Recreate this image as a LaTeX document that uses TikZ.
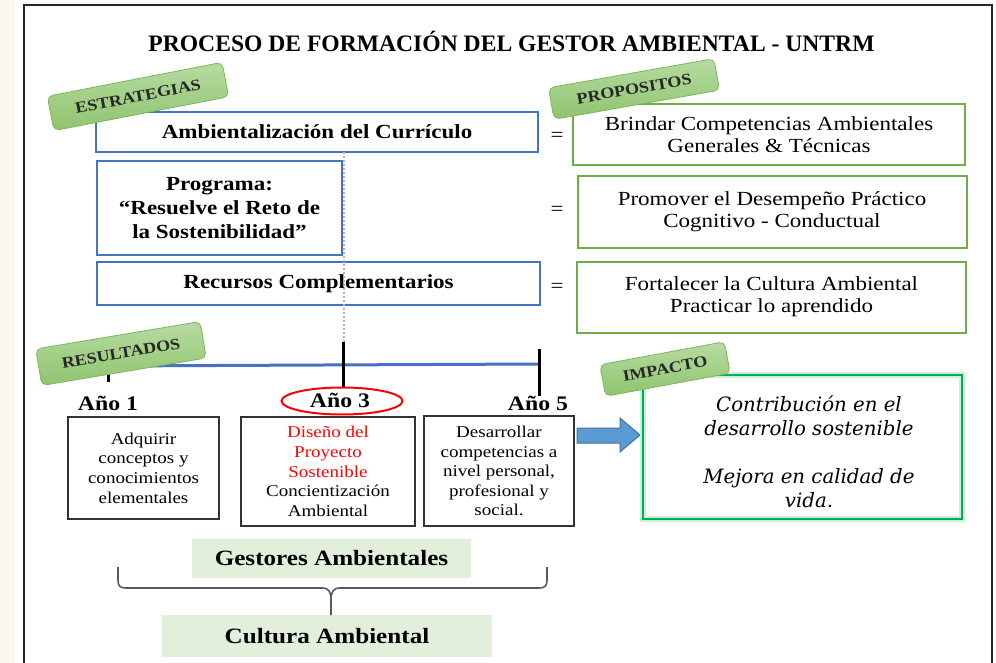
\documentclass[tikz,border=0pt]{standalone}
\usepackage{fontspec}
\setmainfont{Liberation Serif}[FakeStretch=1.15]
\newfontfamily\titlefont{Liberation Serif}
\newfontfamily\impfont{DejaVu Serif}
\usepackage{xcolor}
\usepackage{tikz}
\usetikzlibrary{positioning,shapes.geometric}
\definecolor{boxblue}{HTML}{4472C4}
\definecolor{boxgreen}{HTML}{70AD47}
\definecolor{tagtop}{HTML}{B7DBA2}
\definecolor{tagbot}{HTML}{8FC46E}
\definecolor{tagedge}{HTML}{7DB65A}
\definecolor{impgreen}{HTML}{00B050}
\definecolor{palegreen}{HTML}{E2EFDA}
\definecolor{arrfill}{HTML}{5B9BD5}
\definecolor{arredge}{HTML}{41719C}
\definecolor{strip}{HTML}{FCF6F1}
\definecolor{bracegrey}{HTML}{595959}
\tikzset{
  frame/.style={draw=black!85, line width=1.5pt},
  titletxt/.style={font=\titlefont\bfseries\fontsize{17.7}{20}\selectfont, inner sep=0pt},
  estr/.style={rectangle, draw=boxblue, line width=1.5pt, align=center,
               font=\bfseries\fontsize{15}{18}\selectfont, inner sep=2pt},
  prop/.style={rectangle, draw=boxgreen, line width=1.5pt, align=center,
               font=\fontsize{15}{16.5}\selectfont, inner sep=2pt},
  eqsign/.style={font=\fontsize{15}{18}\selectfont, inner sep=0pt},
  guide/.style={draw=black!30, line width=1.5pt, dash pattern=on 1.5pt off 1.5pt},
  timeline/.style={draw=boxblue, line width=2.25pt},
  tick/.style={draw=black, line width=2.25pt},
  yrlbl/.style={font=\bfseries\fontsize{15.5}{18}\selectfont, inner sep=0pt},
  redring/.style={ellipse, draw=red, line width=1.5pt, minimum width=90.75pt,
                  minimum height=20.25pt, inner sep=0pt},
  yrbox/.style={rectangle, draw=black!80, line width=1pt, align=center,
                font=\fontsize{12.4}{14.7}\selectfont, inner sep=2pt},
  bigarr/.style={fill=arrfill, draw=arredge, line width=0.75pt},
  impbox/.style={rectangle, draw=impgreen, line width=1.5pt,
                 preaction={draw=impgreen!20, line width=4.5pt}},
  imptxt/.style={font=\impfont\itshape\fontsize{14.8}{18}\selectfont, align=center, inner sep=0pt},
  pale/.style={rectangle, fill=palegreen, font=\bfseries\fontsize{16.4}{18}\selectfont},
  bracel/.style={draw=bracegrey, line width=1.2pt},
  tag/.style={rectangle, rounded corners=4pt, draw=tagedge, line width=0.6pt,
              top color=tagtop, bottom color=tagbot, text=black!85,
              font=\bfseries\fontsize{11.8}{13}\selectfont, inner sep=0pt},
}
\begin{document}
\begin{tikzpicture}[x=0.75pt,y=-0.75pt]
  \useasboundingbox (0,0) rectangle (996,663);
  % page strip and frame
  \fill[strip] (0,0) rectangle (15,663);
  \draw[frame] (24,5) rectangle (992,700);

  % title
  \node[titletxt, anchor=base] (title) at (511.5,52) {PROCESO DE FORMACIÓN DEL GESTOR AMBIENTAL - UNTRM};

  % estrategias
  \node[estr, minimum width=331.5pt, minimum height=30pt] (curr) at (317,132) {Ambientalización del Currículo};
  \node[estr, minimum width=183.75pt, minimum height=70.5pt] (prog) at (219.5,208) {Programa:\\“Resuelve el Reto de\\la Sostenibilidad”};
  \node[estr, minimum width=332.25pt, minimum height=32.25pt] (recur) at (318.5,283.5) {Recursos Complementarios};

  % propositos
  \node[prop, minimum width=294pt, minimum height=45.75pt] (brindar) at (769,134.5) {Brindar Competencias Ambientales\\Generales \& Técnicas};
  \node[prop, minimum width=291.75pt, minimum height=53.25pt] (promover) at (772,212) {Promover el Desempeño Práctico\\Cognitivo - Conductual};
  \node[prop, minimum width=291.75pt, minimum height=53.25pt] (fortal) at (771.5,297) {Fortalecer la Cultura Ambiental\\Practicar lo aprendido};

  % equals
  \node[eqsign] (eq1) at (557,137) {=};
  \node[eqsign] (eq2) at (557,211) {=};
  \node[eqsign] (eq3) at (557,288) {=};

  % dotted guide
  \coordinate (g1) at (344,152);
  \coordinate (g2) at (344,342);
  \draw[guide] (g1) -- (g2);

  % timeline
  \coordinate (y1) at (108,366);
  \coordinate (y5) at (539,364);
  \draw[timeline] (y1) -- (y5);
  \draw[tick] (108,349) -- (108,382);
  \draw[tick] (343,342) -- (343,388);
  \draw[tick] (539,349) -- (539,396);

  % year labels
  \node[yrlbl, anchor=base] (a1) at (108,410) {Año 1};
  \node[redring] (ring) at (342,401) {};
  \node[yrlbl, anchor=base] (a3) at (340,407) {Año 3};
  \node[yrlbl, anchor=base] (a5) at (538,410) {Año 5};

  % year boxes
  \node[yrbox, minimum width=113.25pt, minimum height=76.5pt] (b1) at (143.5,468) {Adquirir\\conceptos y\\conocimientos\\elementales};
  \node[yrbox, minimum width=130.5pt, minimum height=81.75pt] (b2) at (328,471.5) {\textcolor{red}{Diseño del}\\\textcolor{red}{Proyecto}\\\textcolor{red}{Sostenible}\\Concientización\\Ambiental};
  \node[yrbox, minimum width=112.5pt, minimum height=82.5pt] (b3) at (499,471) {Desarrollar\\competencias a\\nivel personal,\\profesional y\\social.};

  % arrow to impact
  \filldraw[bigarr] (577,428) -- (620,428) -- (620,418) -- (640,435) -- (620,452) -- (620,443) -- (577,443) -- cycle;

  % impacto
  \node[impbox, minimum width=239.25pt, minimum height=108pt] (imp) at (802.5,447) {};
  \node[imptxt] (imptx) at (809,452) {Contribución en el\\desarrollo sostenible\\[18pt]Mejora en calidad de\\vida.};

  % gestores and cultura
  \node[pale, minimum width=209.25pt, minimum height=29.25pt] (gest) at (331.5,558.5) {Gestores Ambientales};
  \node[pale, minimum width=247.5pt, minimum height=31.5pt] (cult) at (327,636) {Cultura Ambiental};
  \draw[bracel] (118,567) -- (118,580) .. controls (118,586) and (120,588) .. (126,588) -- (322,588)
    .. controls (329,588) and (331,592) .. (331,600) -- (331,615);
  \draw[bracel] (331,600) .. controls (331,592) and (333,588) .. (340,588) -- (539,588)
    .. controls (545,588) and (547,586) .. (547,580) -- (547,567);

  % tags
  \node[tag, rotate=11, minimum width=133.5pt, minimum height=26.25pt] (tstr) at (138,96.5) {ESTRATEGIAS};
  \node[tag, rotate=10, minimum width=126pt, minimum height=24pt] (tprop) at (634,89) {PROPOSITOS};
  \node[tag, rotate=9.5, minimum width=125pt, minimum height=27.75pt] (tres) at (121,353.5) {RESULTADOS};
  \node[tag, rotate=10.5, minimum width=95pt, minimum height=24pt] (timp) at (665,369) {IMPACTO};
\end{tikzpicture}
\end{document}
